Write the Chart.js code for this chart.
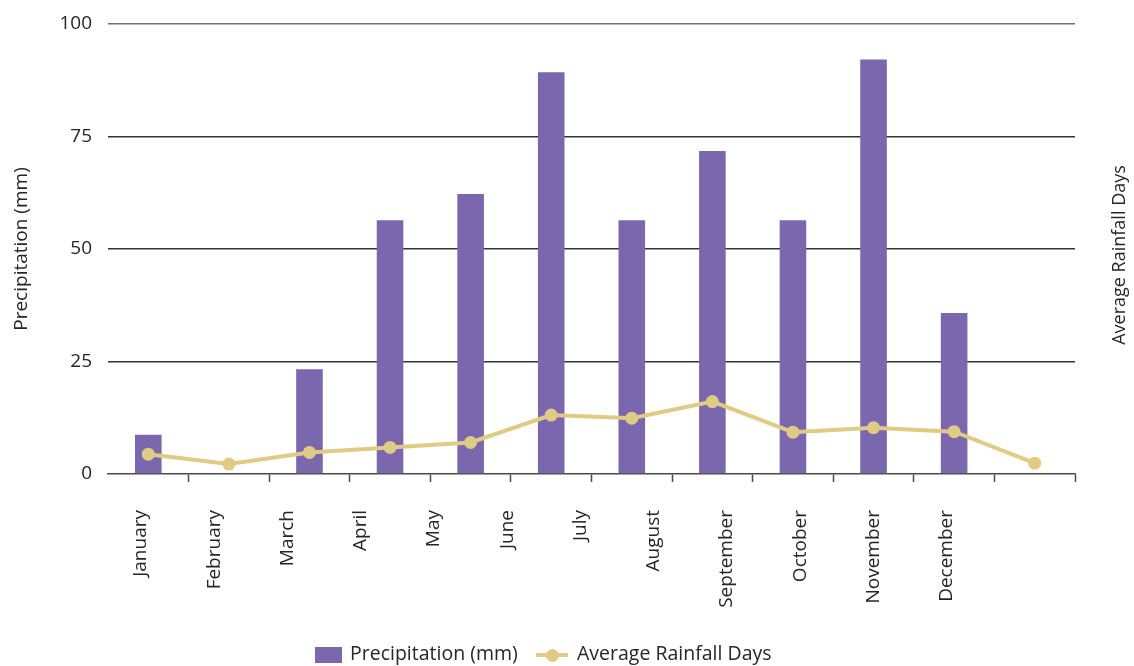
<!DOCTYPE html>
<html lang="en">
<head>
<meta charset="utf-8">
<title>Monthly precipitation and rainfall days</title>
<script src="https://cdn.jsdelivr.net/npm/chart.js@4.4.1/dist/chart.umd.min.js"></script>
<style>
  html, body { margin: 0; padding: 0; background: #ffffff; }
  #wrap { position: relative; width: 1134px; height: 666px; font-family: "Open Sans", sans-serif; color: #262626; }
  #wrap canvas { position: absolute; left: 0; top: 0; }
  .legend-swatch-bar { position: absolute; left: 315px; top: 647px; width: 27px; height: 16px; background: #7B67AE; }
  .legend-swatch-line { position: absolute; left: 536px; top: 653px; width: 32px; height: 4px; background: #E0CB84; }
  .legend-swatch-dot { position: absolute; left: 545.5px; top: 648.5px; width: 13px; height: 13px; border-radius: 50%; background: #E0CB84; }
  .legend-text { position: absolute; font-size: 19.5px; line-height: 19.5px; white-space: nowrap; }
</style>
</head>
<body>
<div id="wrap">
  <canvas id="chart"></canvas>
  <div class="legend-swatch-bar"></div>
  <span class="legend-text" style="left:350px; top:642.7px;">Precipitation (mm)</span>
  <div class="legend-swatch-line"></div>
  <div class="legend-swatch-dot"></div>
  <span class="legend-text" style="left:577px; top:642.7px;">Average Rainfall Days</span>
</div>
<script>
// Month names used for both the data slots and the rotated axis labels
const months = ['January', 'February', 'March', 'April', 'May', 'June',
                'July', 'August', 'September', 'October', 'November', 'December'];

// Monthly precipitation in millimetres (bars, left axis)
const precipitation = [8.7, 0, 23.3, 56.4, 62.2, 89.3, 56.4, 71.8, 56.4, 92.1, 35.8, 0];

// Average number of rainy days per month (line, right axis)
const rainfallDays = [4.4, 2.2, 4.8, 5.9, 7.0, 13.1, 12.4, 16.1, 9.3, 10.3, 9.4, 2.4];

// Left axis tick values
const precipitationTicks = [0, 25, 50, 75, 100];

const BAR_COLOR = '#7B67AE';
const LINE_COLOR = '#E0CB84';
const TEXT_COLOR = '#262626';
const FONT_FAMILY = '"Open Sans", sans-serif';

// Label row geometry: first label offset from the plot's left edge and the spacing between labels
const LABEL_FIRST_OFFSET = 33;
const LABEL_STEP = 73.25;
const PLOT_LEFT = 108;
const PLOT_RIGHT = 1075;
const CANVAS_W = 1134;
const CANVAS_H = 666;
const PLOT_BOTTOM = 474;

Chart.defaults.font.family = FONT_FAMILY;
Chart.defaults.font.size = 19;
Chart.defaults.color = TEXT_COLOR;

// Title of the right-hand axis, written bottom-to-top like the left one
const rightAxisTitle = {
  id: 'rightAxisTitle',
  afterDraw(chart) {
    const s = chart.scales.y1;
    const ctx = chart.ctx;
    ctx.save();
    ctx.font = '18px ' + FONT_FAMILY;
    ctx.fillStyle = TEXT_COLOR;
    ctx.translate(s.right - 14.4, (s.top + s.bottom) / 2 + 6);
    ctx.rotate(-Math.PI / 2);
    ctx.textAlign = 'center';
    ctx.textBaseline = 'middle';
    ctx.fillText('Average Rainfall Days', 0, 0);
    ctx.restore();
  }
};

new Chart(document.getElementById('chart'), {
  data: {
    labels: months,
    datasets: [
      {
        type: 'line',
        label: 'Average Rainfall Days',
        data: rainfallDays,
        yAxisID: 'y1',
        xAxisID: 'x',
        order: 0,
        borderColor: LINE_COLOR,
        backgroundColor: LINE_COLOR,
        borderWidth: 4,
        tension: 0,
        pointRadius: 6.5,
        pointBorderWidth: 0,
        pointBackgroundColor: LINE_COLOR
      },
      {
        type: 'bar',
        label: 'Precipitation (mm)',
        data: precipitation,
        yAxisID: 'y',
        xAxisID: 'x',
        order: 1,
        backgroundColor: BAR_COLOR,
        borderWidth: 0,
        categoryPercentage: 1,
        barPercentage: 0.33
      }
    ]
  },
  options: {
    responsive: true,
    maintainAspectRatio: false,
    animation: false,
    layout: { padding: { top: 24, left: 0, right: 0, bottom: 0 } },
    plugins: {
      legend: { display: false },
      tooltip: { enabled: false }
    },
    scales: {
      x: {
        type: 'category',
        position: 'bottom',
        offset: true,
        weight: 0,
        ticks: { display: false },
        grid: {
          offset: true,
          drawOnChartArea: false,
          drawTicks: true,
          tickLength: 8,
          tickWidth: 1.5,
          tickColor: (ctx) => (ctx.index === 0 ? 'rgba(0,0,0,0)' : '#4a4a4a')
        },
        border: { display: true, color: '#4a4a4a', width: 1.5 },
        afterFit: (scale) => { scale.height = 8; }
      },
      xLabels: {
        type: 'linear',
        position: 'bottom',
        weight: 1,
        bounds: 'data',
        min: -LABEL_FIRST_OFFSET / LABEL_STEP,
        max: (PLOT_RIGHT - PLOT_LEFT - LABEL_FIRST_OFFSET) / LABEL_STEP,
        grid: { display: false, drawTicks: false },
        border: { display: false },
        ticks: {
          autoSkip: false,
          minRotation: 90,
          maxRotation: 90,
          padding: 28,
          color: TEXT_COLOR,
          font: { size: 19 },
          callback: (value) => months[value]
        },
        afterBuildTicks: (scale) => {
          scale.ticks = months.map((_, i) => ({ value: i }));
        },
        afterFit: (scale) => {
          scale.height = CANVAS_H - PLOT_BOTTOM - 8;
          scale.paddingLeft = 0;
          scale.paddingRight = 0;
        }
      },
      y: {
        type: 'linear',
        position: 'left',
        min: 0,
        max: 100,
        afterBuildTicks: (scale) => {
          scale.ticks = precipitationTicks.map((v) => ({ value: v }));
        },
        ticks: { padding: 16, color: TEXT_COLOR, font: { size: 19 } },
        grid: {
          drawTicks: false,
          lineWidth: 1.5,
          color: (ctx) => {
            if (ctx.tick && ctx.tick.value === 0) return 'rgba(0,0,0,0)';
            if (ctx.tick && ctx.tick.value === 100) return '#6e6e6e';
            return '#333333';
          }
        },
        border: { display: false },
        title: {
          display: true,
          text: 'Precipitation (mm)',
          color: TEXT_COLOR,
          font: { size: 19 },
          padding: { top: 10, bottom: 0 }
        },
        afterFit: (scale) => {
          scale.width = PLOT_LEFT;
          scale.paddingTop = 0;
          scale.paddingBottom = 0;
        }
      },
      y1: {
        type: 'linear',
        position: 'right',
        min: 0,
        max: 100,
        ticks: { display: false },
        grid: { display: false, drawTicks: false },
        border: { display: false },
        afterFit: (scale) => {
          scale.width = CANVAS_W - PLOT_RIGHT;
          scale.paddingTop = 0;
          scale.paddingBottom = 0;
        }
      }
    }
  },
  plugins: [rightAxisTitle]
});
</script>
</body>
</html>
